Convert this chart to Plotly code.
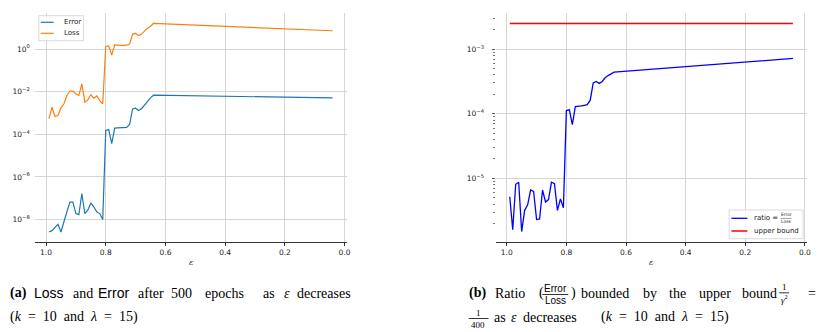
import plotly.graph_objects as go

# epsilon values (x axis, shared by both panels)
eps = [0.99, 0.98, 0.97, 0.96, 0.95, 0.94, 0.93, 0.92, 0.91, 0.90,
       0.89, 0.88, 0.87, 0.86, 0.85, 0.84, 0.83, 0.82, 0.81, 0.80,
       0.79, 0.78, 0.77, 0.76, 0.75, 0.74, 0.73, 0.72, 0.71, 0.70,
       0.69, 0.68, 0.67, 0.66, 0.65, 0.64, 0.04]

error = [2.6e-9, 3.0e-9, 4.3e-9, 6.0e-9, 2.6e-9, 8.9e-9, 2.3e-8, 6.6e-8, 6.6e-8, 1.9e-8,
         1.7e-8, 1.66e-7, 1.9e-8, 2.75e-8, 6.0e-8, 3.9e-8, 2.3e-8, 1.9e-8, 1.0e-8, 1.5e-4,
         1.66e-4, 3.6e-5, 1.95e-4, 2.0e-4, 2.0e-4, 2.05e-4, 2.1e-4, 2.9e-4, 1.55e-3, 1.66e-3,
         1.29e-3, 1.58e-3, 2.4e-3, 3.8e-3, 5.1e-3, 6.8e-3, 5.1e-3]

loss = [5.4e-4, 1.86e-3, 6.8e-4, 7.6e-4, 1.74e-3, 2.7e-3, 6.6e-3, 1.07e-2, 1.05e-2, 7.8e-3,
        6.6e-3, 2.3e-2, 3.2e-3, 4.1e-3, 7.1e-3, 4.9e-3, 6.3e-3, 3.8e-3, 2.7e-3, 1.32,
        1.38, 0.52, 1.55, 1.48, 1.48, 1.48, 1.51, 1.70, 5.0, 5.4,
        4.2, 5.0, 7.2, 9.5, 11.7, 15.8, 7.2]

ratio = [5.2e-6, 1.6e-6, 8.1e-6, 8.7e-6, 1.5e-6, 3.2e-6, 3.9e-6, 6.6e-6, 6.3e-6, 2.3e-6,
         2.35e-6, 6.6e-6, 4.3e-6, 4.7e-6, 8.7e-6, 8.3e-6, 3.2e-6, 4.8e-6, 3.5e-6, 1.12e-4,
         1.15e-4, 6.8e-5, 1.29e-4, 1.29e-4, 1.32e-4, 1.35e-4, 1.38e-4, 1.62e-4, 3.0e-4, 3.16e-4,
         2.95e-4, 3.16e-4, 3.6e-4, 3.9e-4, 4.1e-4, 4.4e-4, 7.2e-4]

ub_eps = [0.99, 0.04]
ub_vals = [0.0025, 0.0025]

x_ticks = [1.0, 0.8, 0.6, 0.4, 0.2, 0.0]
x_ticktext = ['1.0', '0.8', '0.6', '0.4', '0.2', '0.0']
left_yticks = [1, 1e-2, 1e-4, 1e-6, 1e-8]
left_yticktext = ['10<sup>0</sup>', '10<sup>−2</sup>', '10<sup>−4</sup>', '10<sup>−6</sup>', '10<sup>−8</sup>']
right_yticks = [1e-3, 1e-4, 1e-5]
right_yticktext = ['10<sup>−3</sup>', '10<sup>−4</sup>', '10<sup>−5</sup>']

W, H = 828, 332
SERIF = 'Liberation Serif'
SANS = 'Liberation Sans'
TICKFONT = dict(family='DejaVu Sans', size=7.5, color='#222')
GRID = '#d6d6d6'


def px(x):
    return x / W


def py(y):
    return 1 - y / H


fig = go.Figure()

fig.add_trace(go.Scatter(x=eps, y=error, mode='lines', name='Error',
                         line=dict(color='#1f77b4', width=1.2), xaxis='x', yaxis='y'))
fig.add_trace(go.Scatter(x=eps, y=loss, mode='lines', name='Loss',
                         line=dict(color='#ff7f0e', width=1.2), xaxis='x', yaxis='y'))
fig.add_trace(go.Scatter(x=eps, y=ratio, mode='lines', name='ratio',
                         line=dict(color='#0000ff', width=1.3), xaxis='x2', yaxis='y2'))
fig.add_trace(go.Scatter(x=ub_eps, y=ub_vals, mode='lines', name='upper bound',
                         line=dict(color='#ff0000', width=1.5), xaxis='x2', yaxis='y2'))

xaxis_common = dict(range=[1.0375, -0.0075], tickvals=x_ticks, ticktext=x_ticktext,
                    showline=True, linecolor='#333', linewidth=1, ticks='outside',
                    ticklen=3, tickcolor='#333', showgrid=True, gridcolor=GRID,
                    gridwidth=1, zeroline=False, tickfont=TICKFONT)

ydom = [py(242.3), py(13)]

fig.update_layout(
    width=W, height=H,
    margin=dict(l=0, r=0, t=0, b=0),
    paper_bgcolor='white', plot_bgcolor='white',
    showlegend=False,
    xaxis=dict(domain=[px(35), px(348.5)], anchor='y', **xaxis_common),
    xaxis2=dict(domain=[px(498), px(811)], anchor='y2', **xaxis_common),
    yaxis=dict(domain=ydom, type='log', range=[-9.07, 1.69], anchor='x',
               tickvals=left_yticks, ticktext=left_yticktext, ticks='',
               showline=False, showgrid=True, gridcolor=GRID, gridwidth=1,
               zeroline=False, tickfont=TICKFONT, ticklabelstandoff=4),
    yaxis2=dict(domain=ydom, type='log', range=[-5.99, -2.44], anchor='x2',
                tickvals=right_yticks, ticktext=right_yticktext, ticks='outside',
                ticklen=3, tickcolor='#555', showline=False, showgrid=True,
                gridcolor=GRID, gridwidth=1, zeroline=False, tickfont=TICKFONT,
                ticklabelstandoff=6,
                minor=dict(ticks='outside', ticklen=1.5, tickcolor='#777', showgrid=False,
                           tickvals=[m * 10 ** e for e in (-6, -5, -4) for m in range(2, 10)] + [2e-3, 3e-3])),
)

annotations = []
shapes = []


def text(x, y, s, size, family=SERIF, xanchor='left', color='black'):
    annotations.append(dict(x=px(x), y=py(y), xref='paper', yref='paper', text=s,
                            showarrow=False, xanchor=xanchor, yanchor='middle',
                            font=dict(family=family, size=size, color=color)))


def hline(x0, x1, y, color='black', width=0.8):
    shapes.append(dict(type='line', xref='paper', yref='paper', x0=px(x0), x1=px(x1),
                       y0=py(y), y1=py(y), line=dict(color=color, width=width)))


# axis labels
text(191.7, 262, '<i>ε</i>', 8, family='DejaVu Serif', xanchor='center', color='#222')
text(654, 262, '<i>ε</i>', 8, family='DejaVu Serif', xanchor='center', color='#222')

# legend (a)
shapes.append(dict(type='rect', xref='paper', yref='paper', x0=px(39), x1=px(84),
                   y0=py(40.7), y1=py(15.7), line=dict(color='#d0d0d0', width=0.8),
                   fillcolor='rgba(255,255,255,0.85)'))
hline(41, 54, 22.3, '#1f77b4', 1.2)
hline(41, 54, 33.3, '#ff7f0e', 1.2)
text(62, 22.3, 'Error', 7, family='DejaVu Sans', color='#222')
text(62, 33.3, 'Loss', 7, family='DejaVu Sans', color='#222')

# legend (b)
shapes.append(dict(type='rect', xref='paper', yref='paper', x0=px(732.7), x1=px(807),
                   y0=py(238.7), y1=py(210), line=dict(color='#d0d0d0', width=0.8),
                   fillcolor='rgba(255,255,255,0.85)'))
hline(735, 751, 218.3, '#0000ff', 1.3)
hline(735, 751, 231, '#ff0000', 1.5)
text(756, 218.3, 'ratio =', 7, family='DejaVu Sans', color='#222')
text(790, 215, 'Error', 4.5, family='DejaVu Sans', xanchor='center', color='#222')
text(790, 221.8, 'Loss', 4.5, family='DejaVu Sans', xanchor='center', color='#222')
hline(784.5, 795.5, 218.4, '#444', 0.5)
text(756, 231, 'upper bound', 7, family='DejaVu Sans', color='#222')

# caption (a)
cap_a = [(8, '<b>(a)</b>', SERIF), (32.3, 'Loss', SANS), (71, 'and', SERIF),
         (96.7, 'Error', SANS), (136.7, 'after', SERIF), (170, '500', SERIF),
         (204, 'epochs', SERIF), (262.7, 'as', SERIF), (283.3, '<i>ε</i>', SERIF),
         (296.7, 'decreases', SERIF)]
for x, s, fam in cap_a:
    text(x, 293, s, 14, family=fam)
text(8, 317, '(<i>k</i>  =  10  and  <i>λ</i>  =  15)', 14)

# caption (b)
cap_b = [(469, '<b>(b)</b>'), (495.7, 'Ratio'), (540, '('), (571.7, ')'),
         (582.3, 'bounded'), (644, 'by'), (670.7, 'the'), (700.7, 'upper'),
         (744, 'bound'), (810, '=')]
for x, s in cap_b:
    text(x, 293, s, 14)
text(558, 288, 'Error', 10, family=SANS, xanchor='center')
text(558, 300.5, 'Loss', 10, family=SANS, xanchor='center')
hline(545, 571, 294.5)
text(788, 286.5, '1', 9, xanchor='center')
text(788, 299, '<i>γ</i><sup>2</sup>', 9, xanchor='center')
hline(783, 793, 292.8)
text(480.7, 312.5, '1', 9, xanchor='center')
text(480.7, 324.5, '400', 9, xanchor='center')
hline(471, 491, 318.5)
for x, s in [(494, 'as'), (511, '<i>ε</i>'), (524, 'decreases')]:
    text(x, 317, s, 14)
text(602.3, 317, '(<i>k</i>  =  10  and  <i>λ</i>  =  15)', 14)

fig.update_layout(annotations=annotations, shapes=shapes)

# the page's default body margin would shift the figure; remove it
fig.write_html("out.html", config={'displayModeBar': False},
               post_script="document.body.style.margin='0';")
